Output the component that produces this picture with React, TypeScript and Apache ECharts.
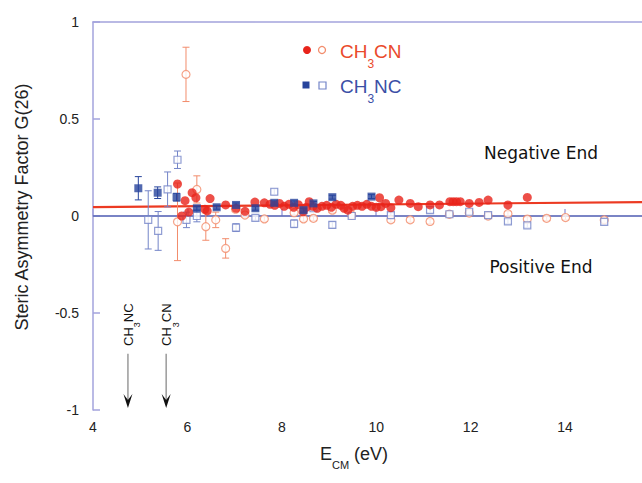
import React, { useEffect, useRef } from "react";
import * as echarts from "echarts";

// CH3CN filled (no visible error bars)
const ch3cnFilled: number[][] = [
  [5.79, 0.165], [5.88, 0.0], [5.95, 0.079], [6.03, 0.02], [6.1, 0.12], [6.18, 0.094],
  [6.37, 0.035], [6.42, 0.026], [6.48, 0.09], [6.81, 0.057], [7.03, 0.04], [7.22, 0.024],
  [7.43, 0.072], [7.63, 0.068], [7.75, 0.06], [7.85, 0.055], [7.95, 0.065], [8.05, 0.05],
  [8.15, 0.06], [8.25, 0.045], [8.35, 0.058], [8.45, 0.022], [8.52, 0.045], [8.58, 0.074],
  [8.66, 0.05], [8.75, 0.04], [8.85, 0.05], [8.95, 0.055], [9.05, 0.045], [9.15, 0.06],
  [9.25, 0.055], [9.32, 0.04], [9.4, 0.03], [9.5, 0.05], [9.6, 0.055], [9.7, 0.05],
  [9.8, 0.06], [9.9, 0.05], [10.0, 0.045], [10.07, 0.094], [10.1, 0.048], [10.2, 0.065],
  [10.31, 0.043], [10.48, 0.082], [10.72, 0.065], [10.89, 0.048], [11.14, 0.057],
  [11.34, 0.057], [11.56, 0.074], [11.63, 0.074], [11.7, 0.074], [11.78, 0.074],
  [11.97, 0.065], [12.18, 0.07], [12.37, 0.082], [12.79, 0.057], [13.2, 0.096],
];
// CH3CN open: [E, G, error]
const ch3cnOpen: number[][] = [
  [5.79, -0.03, 0.2], [5.97, 0.73, 0.14], [6.2, 0.137, 0.07], [6.39, -0.055, 0.07],
  [6.6, -0.02, 0.04], [6.81, -0.167, 0.05], [7.02, 0.035, 0.012], [7.22, 0.005, 0.012],
  [7.63, -0.015, 0.012], [8.26, 0.017, 0.012], [8.46, -0.015, 0.012], [8.67, -0.012, 0.012],
  [9.07, 0.03, 0.012], [9.48, 0.005, 0.012], [10.31, -0.02, 0.012], [10.72, -0.02, 0.012],
  [11.14, -0.028, 0.012], [11.55, 0.009, 0.012], [11.97, 0.015, 0.012], [12.37, 0.0, 0.012],
  [12.79, 0.012, 0.012], [13.2, -0.016, 0.012], [13.61, -0.012, 0.012], [14.01, -0.008, 0.012],
  [14.83, -0.02, 0.012],
];
// CH3NC filled: [E, G, error]
const ch3ncFilled: number[][] = [
  [4.96, 0.143, 0.06], [5.37, 0.12, 0.03], [5.77, 0.097, 0.02], [6.2, 0.04, 0.01],
  [6.62, 0.045, 0.01], [7.03, 0.057, 0.01], [7.44, 0.04, 0.01], [7.84, 0.068, 0.01],
  [8.26, 0.068, 0.01], [8.46, 0.03, 0.01], [8.67, 0.065, 0.01], [9.07, 0.097, 0.01],
  [9.9, 0.1, 0.01],
];
// CH3NC open: [E, G, error]
const ch3ncOpen: number[][] = [
  [5.17, -0.02, 0.15], [5.38, -0.077, 0.1], [5.58, 0.137, 0.09], [5.79, 0.29, 0.045],
  [5.98, -0.02, 0.04], [6.2, 0.0, 0.03], [7.03, -0.06, 0.02], [7.44, -0.01, 0.012],
  [7.84, 0.125, 0.015], [8.26, -0.04, 0.02], [8.67, 0.04, 0.012], [9.07, -0.046, 0.015],
  [9.48, 0.0, 0.012], [10.31, 0.005, 0.012], [11.14, 0.03, 0.012], [11.55, 0.009, 0.012],
  [11.97, 0.022, 0.012], [12.37, 0.005, 0.012], [12.79, -0.028, 0.012], [13.2, -0.048, 0.012],
  [14.83, -0.03, 0.012],
];
const fitLine: number[][] = [[4, 0.046], [15.63, 0.072]];
const zeroLine: number[][] = [[4, 0], [15.63, 0]];
// threshold arrows: [E, top of arrow G, bottom G], labels
const thresholdE: number[] = [4.74, 5.55];
const thresholdLabels: string[][] = [["CH", "3", "NC"], ["CH", "3", "CN"]];

const X_MIN = 4, X_MAX = 15.63;
const RED = "#e8231a", RED_OPEN = "#f28c6c", BLUE = "#27449c", BLUE_OPEN = "#7485c8";
const AXIS = "#a3a3dc";
const FONT = "Liberation Sans, Arial, sans-serif";

function errorSeries(data: number[][], color: string) {
  return {
    type: "custom",
    data,
    encode: { x: 0, y: 1 },
    silent: true,
    z: 1,
    renderItem: (_p: any, api: any) => {
      const x = api.value(0), y = api.value(1), e = api.value(2);
      const t = api.coord([x, y + e]);
      const b = api.coord([x, y - e]);
      const st = { stroke: color, lineWidth: 1 };
      return {
        type: "group",
        children: [
          { type: "line", shape: { x1: t[0], y1: t[1], x2: b[0], y2: b[1] }, style: st },
          { type: "line", shape: { x1: t[0] - 3.5, y1: t[1], x2: t[0] + 3.5, y2: t[1] }, style: st },
          { type: "line", shape: { x1: b[0] - 3.5, y1: b[1], x2: b[0] + 3.5, y2: b[1] }, style: st },
        ],
      };
    },
  };
}

const subRich = (color: string, size: number, subSize: number, drop: number) => ({
  n: { fontSize: size, fill: color, color, fontFamily: FONT, lineHeight: size + 2, verticalAlign: "top" },
  s: { fontSize: subSize, fill: color, color, fontFamily: FONT, lineHeight: subSize + 2, padding: [drop, 0, 0, 0], verticalAlign: "top" },
});

export default function App() {
  const ref = useRef<HTMLDivElement>(null);
  useEffect(() => {
    const chart = echarts.init(ref.current!, null, { renderer: "svg" });
    const arrowData = thresholdE.map((e, i) => [e, i]);
    chart.setOption({
      animation: false,
      backgroundColor: "#ffffff",
      grid: { left: 93, right: 0, top: 22, bottom: 73, containLabel: false },
      xAxis: [
        {
          type: "value", min: X_MIN, max: X_MAX, interval: 2,
          axisLine: { lineStyle: { color: AXIS, width: 1.5 } },
          axisTick: { inside: true, length: 7, lineStyle: { color: AXIS, width: 1.5 } },
          axisLabel: { color: "#222", fontSize: 14, fontFamily: FONT, margin: 10, showMaxLabel: false },
          splitLine: { show: false },
        },
        {
          type: "value", position: "top", min: X_MIN, max: X_MAX, interval: 2,
          axisLine: { show: true, lineStyle: { color: AXIS, width: 1.5 } },
          axisTick: { show: false }, axisLabel: { show: false }, splitLine: { show: false },
        },
      ],
      yAxis: {
        type: "value", min: -1, max: 1, interval: 0.5,
        axisLine: { show: true, lineStyle: { color: AXIS, width: 1.5 } },
        axisTick: { show: true, inside: true, length: 7, lineStyle: { color: AXIS, width: 1.5 } },
        axisLabel: { color: "#222", fontSize: 14, fontFamily: FONT, margin: 14 },
        splitLine: { show: false },
      },
      graphic: [
        { type: "circle", shape: { cx: 307, cy: 50, r: 4 }, style: { fill: RED } },
        { type: "circle", shape: { cx: 322, cy: 50, r: 3.5 }, style: { fill: "#fff", stroke: RED_OPEN, lineWidth: 1.3 } },
        { type: "text", x: 340, y: 42, style: { text: "{n|CH}{s|3}{n|CN}", rich: subRich("#ea4a2c", 19, 12, 16) } },
        { type: "rect", shape: { x: 302.5, y: 81.5, width: 7, height: 7 }, style: { fill: BLUE } },
        { type: "rect", shape: { x: 319, y: 82, width: 7, height: 7 }, style: { fill: "#fff", stroke: BLUE_OPEN, lineWidth: 1.2 } },
        { type: "text", x: 340, y: 77, style: { text: "{n|CH}{s|3}{n|NC}", rich: subRich("#3b4fa6", 19, 12, 16) } },
        { type: "text", x: 541, y: 153, style: { text: "Negative End", fontSize: 17, fontFamily: "DejaVu Sans, sans-serif", fill: "#111", align: "center", verticalAlign: "middle" } },
        { type: "text", x: 541, y: 267, style: { text: "Positive End", fontSize: 17, fontFamily: "DejaVu Sans, sans-serif", fill: "#111", align: "center", verticalAlign: "middle" } },
        { type: "text", x: 22, y: 207, rotation: Math.PI / 2, style: { text: "Steric Asymmetry Factor G(26)", fontSize: 18, fontFamily: FONT, fill: "#222", align: "center", verticalAlign: "middle" } },
        { type: "text", x: 320, y: 445, style: { text: "{n|E}{s|CM}{n| (eV)}", rich: subRich("#222", 18, 11, 14) } },
      ],
      series: [
        { type: "line", data: zeroLine, symbol: "none", lineStyle: { color: "#3b4fa6", width: 1.2 }, z: 0, silent: true },
        { type: "line", data: fitLine, symbol: "none", lineStyle: { color: "#ec3a22", width: 2.2 }, z: 0, silent: true },
        errorSeries(ch3cnOpen, RED_OPEN),
        errorSeries(ch3ncOpen, BLUE_OPEN),
        errorSeries(ch3ncFilled, BLUE),
        {
          name: "CH3CN open", type: "scatter", data: ch3cnOpen.map((d) => [d[0], d[1]]), symbol: "circle", symbolSize: 8,
          itemStyle: { color: "#fff", borderColor: RED_OPEN, borderWidth: 1.2 }, z: 3,
        },
        {
          name: "CH3NC open", type: "scatter", data: ch3ncOpen.map((d) => [d[0], d[1]]), symbol: "rect", symbolSize: 7,
          itemStyle: { color: "#fff", borderColor: BLUE_OPEN, borderWidth: 1.2 }, z: 3,
        },
        {
          name: "CH3CN", type: "scatter", data: ch3cnFilled, symbol: "circle", symbolSize: 9,
          itemStyle: { color: RED }, z: 4,
        },
        {
          name: "CH3NC", type: "scatter", data: ch3ncFilled.map((d) => [d[0], d[1]]), symbol: "rect", symbolSize: 8,
          itemStyle: { color: BLUE }, z: 5,
        },
        {
          type: "custom", data: arrowData, encode: { x: 0 }, silent: true, z: 6,
          renderItem: (_p: any, api: any) => {
            const e = api.value(0), i = api.value(1);
            const top = api.coord([e, -0.71]);
            const bot = api.coord([e, -0.99]);
            const lab = api.coord([e, -0.67]);
            const [a, b, c] = thresholdLabels[i];
            return {
              type: "group",
              children: [
                { type: "line", shape: { x1: top[0], y1: top[1], x2: bot[0], y2: bot[1] - 8 }, style: { stroke: "#9a9a9a", lineWidth: 1.5 } },
                { type: "polygon", shape: { points: [[bot[0] - 4.5, bot[1] - 14], [bot[0], bot[1] - 8], [bot[0] + 4.5, bot[1] - 14], [bot[0], bot[1]]] }, style: { fill: "#111" } },
                {
                  type: "text", x: lab[0] - 6, y: lab[1], rotation: Math.PI / 2,
                  style: { text: `{n|${a}}{s|${b}}{n|${c}}`, rich: subRich("#111", 13, 9, 11) },
                },
              ],
            };
          },
        },
      ],
    });
    return () => chart.dispose();
  }, []);
  return <div ref={ref} style={{ position: "fixed", left: 0, top: 0, width: 642, height: 483 }} />;
}
